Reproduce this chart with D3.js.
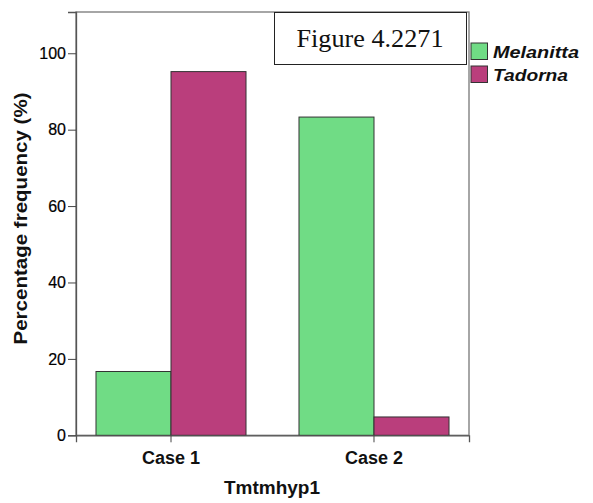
<!DOCTYPE html>
<html><head><meta charset="utf-8">
<script src="https://cdn.jsdelivr.net/npm/d3@7"></script>
<style>body{margin:0;background:#fff}svg{display:block}</style>
</head><body>
<svg id="c" width="593" height="503"></svg>
<script>
const categories = ["Case 1", "Case 2"];
const seriesNames = ["Melanitta", "Tadorna"];
const melanitta = [16.7, 83.3];
const tadorna = [95.2, 4.8];
const yTicks = [0, 20, 40, 60, 80, 100];
const colors = ["#70dc85", "#ba3e7c"];
const xTitle = "Tmtmhyp1";
const yTitle = "Percentage frequency (%)";
const figLabel = "Figure 4.2271";

const values = [melanitta, tadorna];
const svg = d3.select("#c");
const L = 76, R = 469, T = 12, B = 435.3;
const font = "'Liberation Sans', Arial, sans-serif";

const y = d3.scaleLinear().domain([0, 110.8]).range([B, T]);
const x = d3.scaleBand().domain(categories).range([L, R]).paddingInner(0.261).paddingOuter(0.0985);
const xs = d3.scaleBand().domain(seriesNames).range([0, x.bandwidth()]);

// frame
svg.append("rect").attr("x", L).attr("y", T).attr("width", R - L).attr("height", B - T)
  .attr("fill", "none").attr("stroke", "#777").attr("stroke-width", 1.3);

// bars
const g = svg.append("g");
seriesNames.forEach((s, si) => {
  categories.forEach((c, ci) => {
    g.append("rect")
      .attr("x", x(c) + xs(s)).attr("y", y(values[si][ci]))
      .attr("width", xs.bandwidth()).attr("height", y(0) - y(values[si][ci]))
      .attr("fill", colors[si]).attr("stroke", "#333").attr("stroke-width", 1);
  });
});

// y axis
const yAxis = d3.axisLeft(y).tickValues(yTicks).tickSize(8).tickPadding(2);
const ya = svg.append("g").attr("transform", `translate(${L},0)`).call(yAxis);
ya.select(".domain").attr("stroke", "#555").attr("stroke-width", 1.3);
ya.selectAll(".tick line").attr("stroke", "#444");
ya.selectAll(".tick text").attr("font-family", font).attr("font-size", 16).attr("fill", "#000")
  .attr("stroke", "#000").attr("stroke-width", 0.2);

// x axis
const xAxis = d3.axisBottom(x).tickSize(7).tickPadding(9);
const xa = svg.append("g").attr("transform", `translate(0,${B})`).call(xAxis);
xa.select(".domain").attr("stroke", "#555").attr("stroke-width", 1.3);
xa.selectAll(".tick line").attr("stroke", "#444");
xa.selectAll(".tick text").attr("font-family", font).attr("font-size", 18).attr("font-weight", "bold").attr("fill", "#111");

// titles
svg.append("text").attr("x", 272).attr("y", 493.5).attr("text-anchor", "middle")
  .attr("font-family", font).attr("font-size", 18).attr("font-weight", "bold").attr("fill", "#111")
  .attr("textLength", 96).attr("lengthAdjust", "spacingAndGlyphs").text(xTitle);
svg.append("text").attr("transform", "translate(27,218.5) rotate(-90)").attr("text-anchor", "middle")
  .attr("font-family", font).attr("font-size", 18).attr("font-weight", "bold").attr("fill", "#111")
  .attr("textLength", 252).attr("lengthAdjust", "spacingAndGlyphs").text(yTitle);

// figure label box
svg.append("rect").attr("x", 274.5).attr("y", 12.5).attr("width", 192).attr("height", 52)
  .attr("fill", "#fff").attr("stroke", "#222").attr("stroke-width", 1);
svg.append("text").attr("x", 370).attr("y", 47.3).attr("text-anchor", "middle")
  .attr("font-family", "'Liberation Serif', 'Times New Roman', serif").attr("font-size", 26).attr("fill", "#111")
  .attr("textLength", 147).attr("lengthAdjust", "spacingAndGlyphs").text(figLabel);

// legend
const legW = [86, 75];
seriesNames.forEach((s, i) => {
  const yy = 43 + i * 23;
  svg.append("rect").attr("x", 471).attr("y", yy).attr("width", 16.5).attr("height", 16.5)
    .attr("fill", colors[i]).attr("stroke", "#333").attr("stroke-width", 1);
  svg.append("text").attr("x", 493).attr("y", yy + 14.5)
    .attr("font-family", font).attr("font-size", 17).attr("font-weight", "bold").attr("font-style", "italic").attr("fill", "#111")
    .attr("textLength", legW[i]).attr("lengthAdjust", "spacingAndGlyphs").text(s);
});
</script>
</body></html>
